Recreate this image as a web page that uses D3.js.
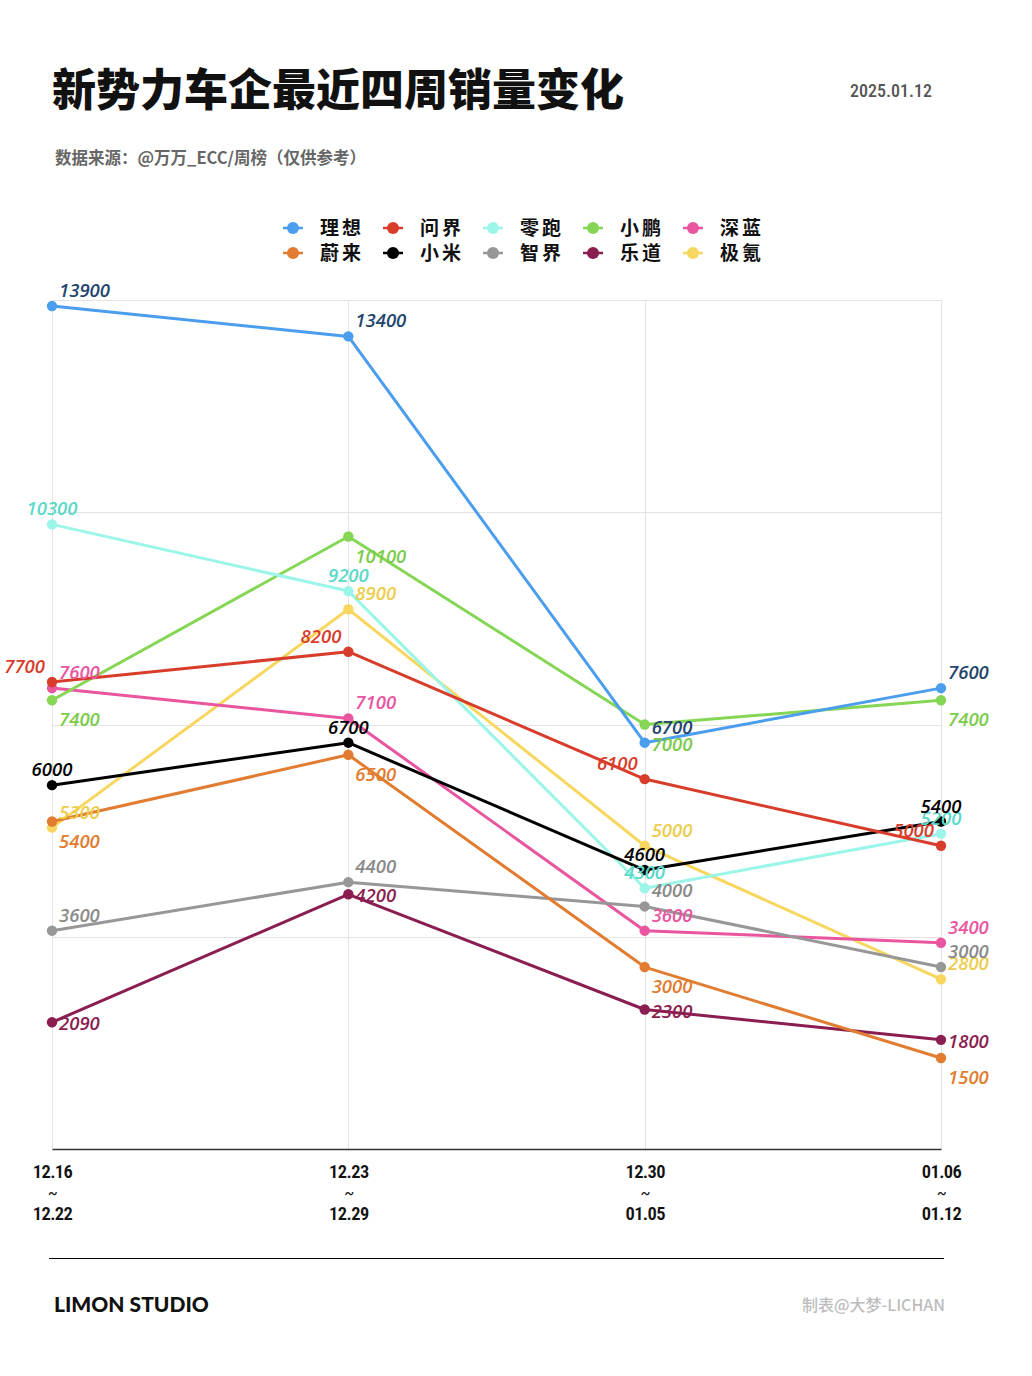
<!DOCTYPE html>
<html>
<head>
<meta charset="utf-8">
<script src="https://cdn.jsdelivr.net/npm/d3@7"></script>
<style>
  html, body { margin: 0; padding: 0; background: #fff; }
  svg { display: block; }
</style>
</head>
<body>
<svg id="chart" width="1032" height="1376"></svg>
<script>
// ---------- DATA ----------
const weekStart = ['12.16', '12.23', '12.30', '01.06'];
const weekEnd   = ['12.22', '12.29', '01.05', '01.12'];
const brands = ['理想', '蔚来', '问界', '小米', '零跑', '智界', '小鹏', '乐道', '深蓝', '极氪'];
const liXiang  = [13900, 13400, 6700, 7600];
const weiLai   = [5400, 6500, 3000, 1500];
const wenJie   = [7700, 8200, 6100, 5000];
const xiaoMi   = [6000, 6700, 4600, 5400];
const lingPao  = [10300, 9200, 4300, 5200];
const zhiJie   = [3600, 4400, 4000, 3000];
const xiaoPeng = [7400, 10100, 7000, 7400];
const leDao    = [2090, 4200, 2300, 1800];
const shenLan  = [7600, 7100, 3600, 3400];
const jiKe     = [5300, 8900, 5000, 2800];
const yTicks = [0, 3500, 7000, 10500, 14000];
const legendRow1 = ['理想', '问界', '零跑', '小鹏', '深蓝'];
const legendRow2 = ['蔚来', '小米', '智界', '乐道', '极氪'];

// ---------- STYLE ----------
const lineColors = {
  '理想': '#4b9ded', '蔚来': '#e27c31', '问界': '#d83d2b', '小米': '#000000', '零跑': '#9cf5e9',
  '智界': '#979797', '小鹏': '#86d655', '乐道': '#8b1e50', '深蓝': '#e9559f', '极氪': '#f7d760'
};
const labelColors = {
  '理想': '#24466e', '蔚来': '#e27c31', '问界': '#d83d2b', '小米': '#000000', '零跑': '#5cd9c9',
  '智界': '#8a8a8a', '小鹏': '#7ccb4c', '乐道': '#8b1e50', '深蓝': '#e9559f', '极氪': '#eccd4e'
};
// label placement per brand: ar = above-right, ac = above-centre, al = above-left, br = below-right, r = right
const labelPlace = {
  '理想': 'ar', '蔚来': 'br', '问界': 'al', '小米': 'ac', '零跑': 'ac',
  '智界': 'ar', '小鹏': 'br', '乐道': 'r', '深蓝': 'ar', '极氪': 'ar'
};
const placeDef = {
  ar: { anchor: 'start', dx: 7, dy: -9 },
  ac: { anchor: 'middle', dx: 0, dy: -9 },
  al: { anchor: 'end', dx: -7, dy: -9 },
  br: { anchor: 'start', dx: 7, dy: 26 },
  r:  { anchor: 'start', dx: 7, dy: 8 }
};
const drawOrder = ['极氪', '深蓝', '乐道', '小鹏', '智界', '零跑', '小米', '问界', '蔚来', '理想'];

const valuesByBrand = {
  '理想': liXiang, '蔚来': weiLai, '问界': wenJie, '小米': xiaoMi, '零跑': lingPao,
  '智界': zhiJie, '小鹏': xiaoPeng, '乐道': leDao, '深蓝': shenLan, '极氪': jiKe
};
const series = brands.map(b => ({ name: b, values: valuesByBrand[b].map((v, i) => ({ week: weekStart[i], v })) }));

// ---------- LAYOUT ----------
const svg = d3.select('#chart');
const plotL = 52, plotR = 941, plotT = 300, plotB = 1149;

const x = d3.scalePoint().domain(weekStart).range([plotL, plotR]);
const y = d3.scaleLinear().domain([0, 14000]).range([plotB, plotT]);

const cjk = '"Noto Sans CJK SC", "Noto Sans", sans-serif';
const narrow = '"Liberation Sans Narrow", "Roboto Condensed", "Roboto", sans-serif';
const numFont = '"Open Sans", "Noto Sans", sans-serif';

// Title
svg.append('text').attr('x', 52).attr('y', 106)
  .attr('font-family', cjk).attr('font-weight', 900).attr('font-size', 44)
  .attr('fill', '#111').text('新势力车企最近四周销量变化');
svg.append('text').attr('x', 932).attr('y', 97).attr('text-anchor', 'end')
  .attr('font-family', narrow).attr('font-weight', 500).attr('font-size', 18)
  .attr('fill', '#555').text('2025.01.12');
svg.append('text').attr('x', 55).attr('y', 164)
  .attr('font-family', cjk).attr('font-weight', 700).attr('font-size', 16.5)
  .attr('fill', '#666').text('数据来源：@万万_ECC/周榜（仅供参考）');

// Legend
[legendRow1, legendRow2].forEach((row, ri) => {
  const g = svg.append('g').attr('transform', `translate(0, ${228 + ri * 25})`);
  row.forEach((b, i) => {
    const cx = 293 + i * 100;
    g.append('line').attr('x1', cx - 10).attr('x2', cx + 10).attr('y1', 0).attr('y2', 0)
      .attr('stroke', lineColors[b]).attr('stroke-width', 2.5);
    g.append('circle').attr('cx', cx).attr('cy', 0).attr('r', 6).attr('fill', lineColors[b]);
    g.append('text').attr('x', cx + 27).attr('y', 7)
      .attr('font-family', cjk).attr('font-weight', 700).attr('font-size', 19)
      .attr('letter-spacing', 3).attr('fill', '#111').text(b);
  });
});

// Grid
const grid = svg.append('g');
grid.selectAll('line.h').data(yTicks.filter(t => t > 0)).join('line')
  .attr('x1', plotL).attr('x2', plotR).attr('y1', d => Math.round(y(d)) + 0.5).attr('y2', d => Math.round(y(d)) + 0.5)
  .attr('stroke', '#e3e3e3').attr('stroke-width', 1);
grid.selectAll('line.v').data(weekStart).join('line')
  .attr('x1', d => Math.round(x(d)) + 0.5).attr('x2', d => Math.round(x(d)) + 0.5).attr('y1', plotT).attr('y2', plotB)
  .attr('stroke', '#e3e3e3').attr('stroke-width', 1);

// X axis
const xAxis = svg.append('g').attr('transform', `translate(0, ${plotB})`)
  .call(d3.axisBottom(x).tickSize(0).tickSizeOuter(0).tickPadding(0).tickFormat(() => ''));
xAxis.select('.domain').attr('stroke', '#333').attr('stroke-width', 1.5);
xAxis.selectAll('.tick text').each(function (d, i) {
  const t = d3.select(this).attr('y', 0).attr('dy', null)
    .attr('font-family', narrow).attr('font-weight', 600).attr('font-size', 18.5).attr('fill', '#111')
    .attr('letter-spacing', -0.6);
  t.append('tspan').attr('x', 0).attr('y', 29).text(weekStart[i]);
  t.append('tspan').attr('x', 0).attr('y', 50).attr('font-size', 17).attr('font-weight', 400).text('~');
  t.append('tspan').attr('x', 0).attr('y', 71).text(weekEnd[i]);
});

// Lines
const line = d3.line().x(d => x(d.week)).y(d => y(d.v));
const ordered = drawOrder.map(n => series.find(s => s.name === n));
const lineG = svg.append('g');
ordered.forEach(s => {
  lineG.append('path').datum(s.values).attr('d', line)
    .attr('fill', 'none').attr('stroke', lineColors[s.name]).attr('stroke-width', 3)
    .attr('stroke-linejoin', 'round');
});
ordered.forEach(s => {
  lineG.selectAll(null).data(s.values).join('circle')
    .attr('cx', d => x(d.week)).attr('cy', d => y(d.v)).attr('r', 5.2)
    .attr('fill', lineColors[s.name]);
});

// Labels
const labG = svg.append('g');
ordered.forEach(s => {
  const p = placeDef[labelPlace[s.name]];
  labG.selectAll(null).data(s.values).join('text')
    .attr('x', d => x(d.week) + p.dx).attr('y', d => y(d.v) + p.dy)
    .attr('text-anchor', p.anchor)
    .attr('font-family', numFont).attr('font-style', 'italic').attr('font-weight', 600)
    .attr('font-size', 18.5).attr('fill', labelColors[s.name])
    .text(d => d.v);
});

// Footer
svg.append('line').attr('x1', 49).attr('x2', 944).attr('y1', 1258.5).attr('y2', 1258.5)
  .attr('stroke', '#000').attr('stroke-width', 1);
svg.append('text').attr('x', 54).attr('y', 1312)
  .attr('font-family', '"Lato", "Inter", sans-serif').attr('font-weight', 900).attr('font-size', 21)
  .attr('fill', '#111').text('LIMON STUDIO');
svg.append('text').attr('x', 945).attr('y', 1311).attr('text-anchor', 'end')
  .attr('font-family', cjk).attr('font-weight', 500).attr('font-size', 16)
  .attr('fill', '#bdbdbd').text('制表@大梦-LICHAN');
</script>
</body>
</html>
